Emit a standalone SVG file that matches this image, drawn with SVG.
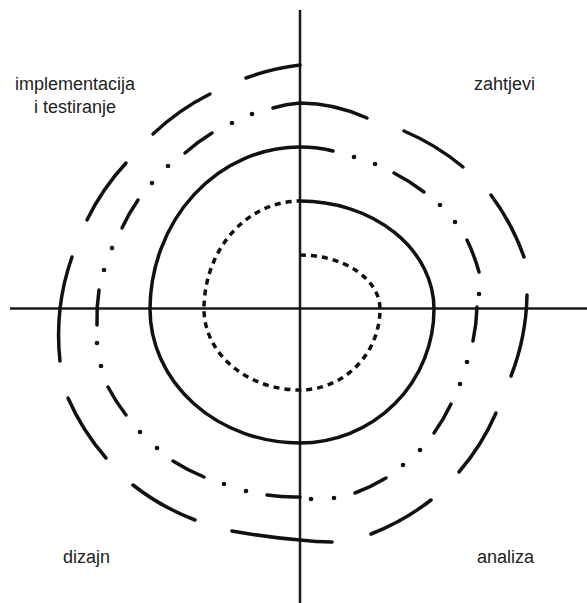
<svg xmlns="http://www.w3.org/2000/svg" width="587" height="603" viewBox="0 0 587 603">
<style>
.ax{stroke:#1a1a1a;stroke-width:2.5;fill:none}
.c{stroke:#111;stroke-width:3.5;fill:none;stroke-linecap:round}
.dot{fill:#111}
.dt{stroke:#111;stroke-width:3.5;fill:none;stroke-dasharray:6 5}
.lbl{font-family:"Liberation Sans",Arial,sans-serif;font-size:18px;fill:#222}
</style>
<rect width="587" height="603" fill="#fff"/>
<g id="axes">
<line class="ax" x1="300" y1="10" x2="300" y2="603"/>
<line class="ax" x1="10" y1="308.5" x2="587" y2="308.5"/>
</g>
<g id="spiral-dotted">
<path class="dt" d="M300,255 A80,54 0 0 1 380,309 A80,81 0 0 1 300,390 A96,81 0 0 1 204,309 A96,108 0 0 1 300,201"/>
</g>
<g id="spiral-solid">
<path class="c" d="M300,201 A134,108 0 0 1 434,309 A134,134 0 0 1 300,443 A150,134 0 0 1 150,309 A150,163 0 0 1 300,147 Q318,147 333,151"/>
</g>
<g id="spiral-dashdot">
<path class="c" d="M394,173 A190,190 0 0 1 424,192"/>
<path class="c" d="M467,240 A190,190 0 0 1 479,272"/>
<path class="c" d="M477,307 A190,190 0 0 1 473,341"/>
<path class="c" d="M451,404 A190,190 0 0 1 434,433"/>
<path class="c" d="M386,478 A190,190 0 0 1 355,493"/>
<path class="c" d="M267,495 A190,190 0 0 0 300,497"/>
<path class="c" d="M204,477 A190,190 0 0 1 173,461"/>
<path class="c" d="M126,415 A190,190 0 0 1 108,387"/>
<path class="c" d="M97,325 A190,190 0 0 1 99,290"/>
<path class="c" d="M122,228 A190,190 0 0 1 138,200"/>
<path class="c" d="M185,153 A190,190 0 0 1 212,133"/>
<circle class="dot" cx="354" cy="157" r="2.3"/>
<circle class="dot" cx="375" cy="164" r="2.3"/>
<circle class="dot" cx="440" cy="205" r="2.3"/>
<circle class="dot" cx="455" cy="222" r="2.3"/>
<circle class="dot" cx="479" cy="294" r="2.3"/>
<circle class="dot" cx="467" cy="362" r="2.3"/>
<circle class="dot" cx="460" cy="384" r="2.3"/>
<circle class="dot" cx="420" cy="450" r="2.3"/>
<circle class="dot" cx="403" cy="465" r="2.3"/>
<circle class="dot" cx="334" cy="498" r="2.3"/>
<circle class="dot" cx="311" cy="499" r="2.3"/>
<circle class="dot" cx="246" cy="491" r="2.3"/>
<circle class="dot" cx="224" cy="484" r="2.3"/>
<circle class="dot" cx="157" cy="448" r="2.3"/>
<circle class="dot" cx="140" cy="432" r="2.3"/>
<circle class="dot" cx="101" cy="366" r="2.3"/>
<circle class="dot" cx="97" cy="343" r="2.3"/>
<circle class="dot" cx="104" cy="270" r="2.3"/>
<circle class="dot" cx="112" cy="248" r="2.3"/>
<circle class="dot" cx="152" cy="183" r="2.3"/>
<circle class="dot" cx="168" cy="166" r="2.3"/>
<circle class="dot" cx="232" cy="123" r="2.3"/>
<circle class="dot" cx="252" cy="114" r="2.3"/>
</g>
<g id="spiral-dashed">
<path class="c" d="M273,108 Q286,104 300,103 Q334,103 367,118"/>
<path class="c" d="M404,131 A235,235 0 0 1 463,167"/>
<path class="c" d="M491,195 A235,235 0 0 1 524,257"/>
<path class="c" d="M527,295 A235,235 0 0 1 511,376"/>
<path class="c" d="M496,413 A235,235 0 0 1 459,472"/>
<path class="c" d="M431,500 A235,235 0 0 1 371,534"/>
<path class="c" d="M332,542 Q316,542 300,540 Q265,537 232,531"/>
<path class="c" d="M195,520 A235,235 0 0 1 133,485"/>
<path class="c" d="M106,458 A235,235 0 0 1 68,398"/>
<path class="c" d="M60,361 A235,235 0 0 1 72,257"/>
<path class="c" d="M87,220 A235,235 0 0 1 126,163"/>
<path class="c" d="M153,134 A235,235 0 0 1 210,94"/>
<path class="c" d="M246,78 A235,235 0 0 1 300,65"/>
</g>
<g id="label-impl">
<text class="lbl" x="75" y="90" text-anchor="middle">implementacija</text>
<text class="lbl" x="75" y="113" text-anchor="middle">i testiranje</text>
</g>
<g id="label-zahtjevi"><text class="lbl" x="474" y="90">zahtjevi</text></g>
<g id="label-dizajn"><text class="lbl" x="63" y="563">dizajn</text></g>
<g id="label-analiza"><text class="lbl" x="477" y="563">analiza</text></g>
</svg>
